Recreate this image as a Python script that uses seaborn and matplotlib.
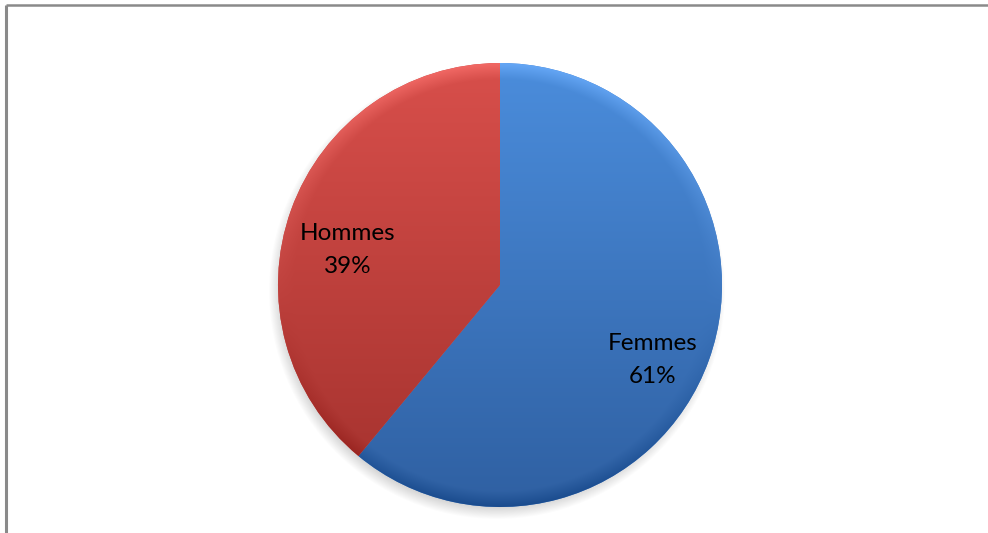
import numpy as np
import matplotlib
matplotlib.use("Agg")
import matplotlib.pyplot as plt
import seaborn as sns
from matplotlib.colors import to_rgb

# Répartition par sexe
categories = ["Femmes", "Hommes"]
parts = [61, 39]
pct_labels = ["61%", "39%"]

sns.set_theme(style="white")
plt.rcParams["font.family"] = ["Lato", "DejaVu Sans"]

palette = sns.color_palette(["#3f7fd0", "#c94441"])
light = ["#4b8ddc", "#d84f4b"]
dark = ["#2f60a2", "#a3312d"]

W, H = 988, 533
fig = plt.figure(figsize=(W / 100, H / 100), dpi=100)
ax = fig.add_axes([0, 0, 1, 1])
ax.set_xlim(0, W)
ax.set_ylim(0, H)
ax.set_aspect("equal")
ax.axis("off")

cx, cy, r = 500, H - 285, 222

# soft drop shadow under the pie
for k in range(14):
    ax.add_patch(plt.Circle((cx - 3, cy - 6), r + 6 - k * 0.9,
                            color="#000000", alpha=0.012, lw=0, zorder=0))

wedges, _ = ax.pie(parts, colors=palette, startangle=90, counterclock=False,
                   center=(cx, cy), radius=r, frame=True,
                   wedgeprops=dict(linewidth=0))
ax.set_xlim(0, W)
ax.set_ylim(0, H)
ax.axis("off")

# vertical shading + rim inside each slice
n = 400
yy, xx = np.mgrid[0:n, 0:n]
t = yy / (n - 1)                       # 0 at top, 1 at bottom
dist = np.hypot(xx - (n - 1) / 2, yy - (n - 1) / 2) / ((n - 1) / 2)
rim = np.clip((dist - 0.93) / 0.07, 0, 1)
for w, lo, hi in zip(wedges, light, dark):
    c0, c1 = np.array(to_rgb(lo)), np.array(to_rgb(hi))
    img = c0[None, None, :] * (1 - t[..., None]) + c1[None, None, :] * t[..., None]
    top_rim = (1 - t) * rim
    bot_rim = t * rim
    img = img + 0.10 * top_rim[..., None] - 0.08 * bot_rim[..., None]
    img = np.clip(img, 0, 1)
    im = ax.imshow(img, extent=(cx - r, cx + r, cy - r, cy + r),
                   origin="upper", zorder=2, interpolation="bilinear")
    im.set_clip_path(w)

# slice labels
ax.text(653, H - 360, f"{categories[0]}\n{pct_labels[0]}", ha="center",
        va="center", fontsize=17.5, color="#000000", linespacing=1.75, zorder=5)
ax.text(348, H - 250, f"{categories[1]}\n{pct_labels[1]}", ha="center",
        va="center", fontsize=17.5, color="#000000", linespacing=1.75, zorder=5)

# chart frame (top and left edges)
ax.plot([6, W], [H - 5, H - 5], color="#8a8a8a", lw=1.8, zorder=6,
        solid_capstyle="butt")
ax.plot([6, 6], [0, H - 5], color="#8a8a8a", lw=2.2, zorder=6,
        solid_capstyle="butt")

fig.savefig("out.png", dpi=100)
